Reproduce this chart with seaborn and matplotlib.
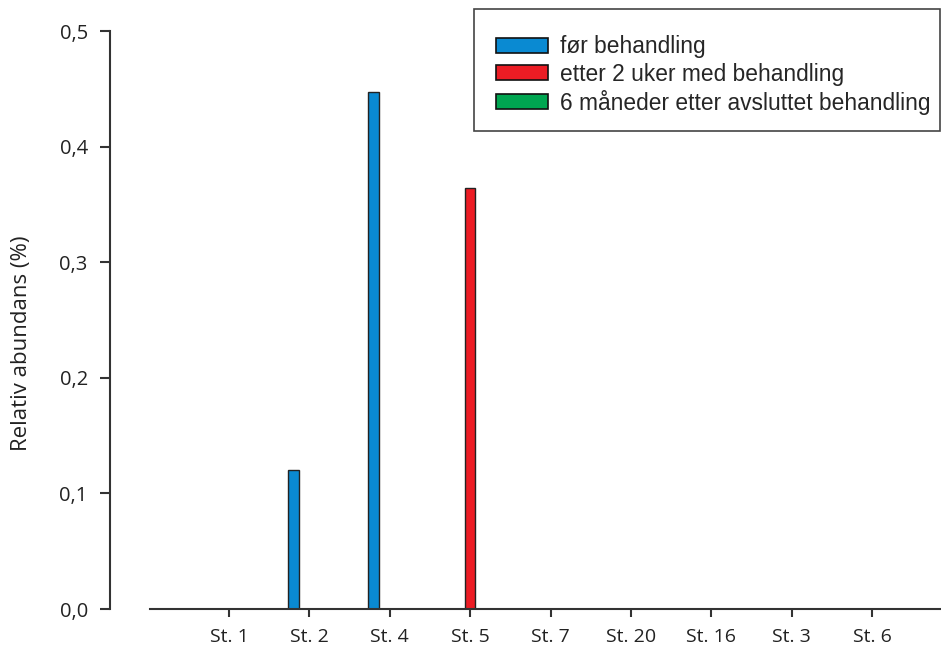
import numpy as np
import pandas as pd
import matplotlib
matplotlib.use("Agg")
import matplotlib.pyplot as plt
import seaborn as sns
from matplotlib.patches import Patch, Rectangle

stations = ["St. 1", "St. 2", "St. 4", "St. 5", "St. 7", "St. 20", "St. 16", "St. 3", "St. 6"]
series_names = ["før behandling", "etter 2 uker med behandling", "6 måneder etter avsluttet behandling"]
before = [0.0, 0.12, 0.447, 0.0, 0.0, 0.0, 0.0, 0.0, 0.0]
after_2w = [0.0, 0.0, 0.0, 0.364, 0.0, 0.0, 0.0, 0.0, 0.0]
after_6m = [0.0, 0.0, 0.0, 0.0, 0.0, 0.0, 0.0, 0.0, 0.0]
yticks = [0.0, 0.1, 0.2, 0.3, 0.4, 0.5]
ytick_labels = ["0,0", "0,1", "0,2", "0,3", "0,4", "0,5"]
colors = ["#0a8ad2", "#ec1c24", "#00a651"]

df = pd.DataFrame({
    "station": stations * 3,
    "serie": [series_names[0]] * 9 + [series_names[1]] * 9 + [series_names[2]] * 9,
    "value": before + after_2w + after_6m,
})

sns.set_style("white")
W, H = 941, 655
fig = plt.figure(figsize=(W / 100, H / 100), dpi=100)
ax = fig.add_axes([110 / W, (H - 609) / H, (940 - 110) / W, (609 - 9) / H])

sns.barplot(data=df, x="station", y="value", hue="serie", order=stations,
            hue_order=series_names, palette=colors, saturation=1, width=0.6, gap=0.35,
            edgecolor="#222222", linewidth=1.0, legend=False, ax=ax, errorbar=None)

px = 80.4
ax.set_xlim(-119 / px, -119 / px + 830 / px)
ax.set_ylim(0, 600 / 1156)

for s in ["top", "right"]:
    ax.spines[s].set_visible(False)
for s in ["left", "bottom"]:
    ax.spines[s].set_color("#333333")
    ax.spines[s].set_linewidth(1.5)
ax.spines["left"].set_bounds(0, 0.5)
ax.spines["bottom"].set_bounds(-79 / px, 711 / px)

tick_font = "Open Sans"
ax.set_yticks(yticks)
ax.set_yticklabels(ytick_labels, fontfamily=tick_font, fontsize=14.5, color="#222222")
ax.set_xticks(range(len(stations)))
ax.set_xticklabels(stations, fontfamily=tick_font, fontsize=14, color="#222222")
ax.tick_params(axis="y", direction="out", length=7, width=1.5, color="#333333", pad=9, left=True)
ax.tick_params(axis="x", direction="out", length=6, width=1.5, color="#333333", pad=8, bottom=True)
ax.set_xlabel("")
ax.set_ylabel("")
fig.text(22 / W, 1 - 343 / H, "Relativ abundans (%)", rotation=90, ha="center", va="center",
         fontfamily=tick_font, fontsize=16, color="#222222")

# legend frame drawn as a rectangle, legend entries placed inside it
fig.patches.append(Rectangle((474 / W, 1 - 131 / H), (940 - 474) / W, (131 - 9) / H,
                             transform=fig.transFigure, facecolor="white",
                             edgecolor="#444444", linewidth=1.2, zorder=5))
handles = [Patch(facecolor=c, edgecolor="#111111", linewidth=1.2) for c in colors]
leg = fig.legend(handles, series_names, loc="upper left",
                 bbox_to_anchor=(496 / W, 1 - 35.5 / H), bbox_transform=fig.transFigure,
                 borderaxespad=0, borderpad=0, frameon=False,
                 prop={"family": "Liberation Sans", "size": 16.4},
                 handlelength=2.28, handleheight=0.66, handletextpad=0.53,
                 labelspacing=0.18)
leg.set_zorder(6)

fig.savefig("out.png", dpi=100)
